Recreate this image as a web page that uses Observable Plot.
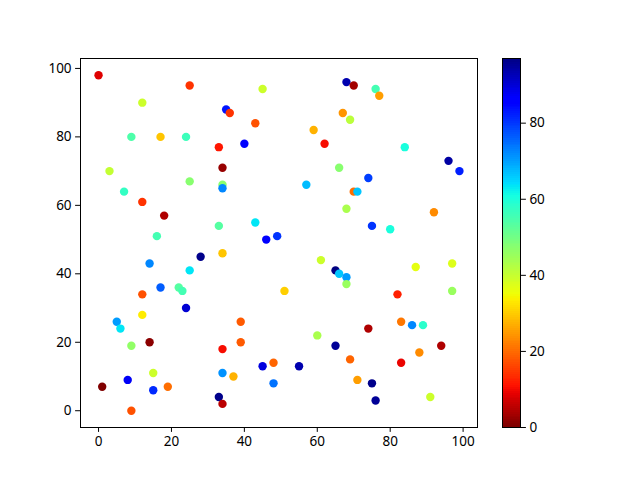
<!DOCTYPE html>
<html>
<head>
<meta charset="utf-8">
<script src="https://cdn.jsdelivr.net/npm/d3@7"></script>
<script src="https://cdn.jsdelivr.net/npm/@observablehq/plot@0.6"></script>
<style>
  html, body { margin: 0; padding: 0; background: #fff; }
  #wrap { position: relative; width: 640px; height: 480px; }
  #wrap svg { position: absolute; left: 0; top: 0; background: transparent; }
</style>
</head>
<body>
<div id="wrap"></div>
<script>
const xs = [0,25,45,12,35,36,43,9,17,24,33,40,3,34,25,34,34,7,12,18,33,43,16,46,49,
            68,70,76,77,67,69,59,62,84,96,99,66,74,57,70,71,68,92,75,80,
            28,34,14,25,17,22,23,12,24,12,5,6,9,14,34,39,39,51,15,8,1,15,19,9,34,37,33,34,45,48,48,
            61,65,66,68,68,87,97,82,97,83,86,89,74,60,65,94,55,69,83,88,71,75,76,91];
const ys = [98,95,94,90,88,87,84,80,80,80,77,78,70,71,67,66,65,64,61,57,54,55,51,50,51,
            96,95,94,92,87,85,82,78,77,73,70,71,68,66,64,64,59,58,54,53,
            45,46,43,41,36,36,35,34,30,28,26,24,19,20,18,26,20,35,11,9,7,6,7,0,11,10,4,2,13,14,8,
            44,41,40,39,37,42,43,34,35,26,25,25,24,22,19,19,13,15,14,17,9,8,3,4];
const cs = [8,14,39,39,83,14,17,54,29,56,11,86,40,2,47,47,72,57,14,4,53,63,55,86,80,
            93,3,55,25,24,41,27,10,60,94,82,47,79,67,20,66,43,23,80,60,
            96,29,72,63,76,53,55,17,90,33,70,63,46,1,10,18,18,30,39,87,0,81,20,17,71,27,96,5,89,19,74,
            39,97,66,70,45,36,37,12,45,21,72,58,4,43,95,4,93,19,9,23,25,96,95,39];

const data = xs.map((x, i) => ({x, y: ys[i], c: cs[i]}));

// matplotlib "jet" colormap segment data
function seg(pts, t) {
  for (let i = 1; i < pts.length; i++) {
    if (t <= pts[i][0]) {
      const [t0, v0] = pts[i - 1], [t1, v1] = pts[i];
      return v0 + (v1 - v0) * (t - t0) / (t1 - t0);
    }
  }
  return pts[pts.length - 1][1];
}
const R = [[0,0],[0.35,0],[0.66,1],[0.89,1],[1,0.5]];
const G = [[0,0],[0.125,0],[0.375,1],[0.64,1],[0.91,0],[1,0]];
const B = [[0,0.5],[0.11,1],[0.34,1],[0.65,0],[1,0]];
function jet(t) {
  t = Math.max(0, Math.min(1, t));
  return d3.rgb(255 * seg(R, t), 255 * seg(G, t), 255 * seg(B, t)).formatHex();
}
const jetR = t => jet(1 - t);

const cmin = d3.min(cs), cmax = d3.max(cs);
const font = "'Noto Sans', 'DejaVu Sans', sans-serif";
const ticks = [0, 20, 40, 60, 80, 100];

const main = Plot.plot({
  width: 640, height: 480,
  marginLeft: 80, marginRight: 163, marginTop: 58, marginBottom: 53,
  style: {fontFamily: font, fontSize: "13.5px", color: "#000", background: "transparent"},
  x: {domain: [-4.95, 103.95]},
  y: {domain: [-4.9, 102.9]},
  color: {type: "linear", domain: [cmin, cmax], interpolate: jetR},
  marks: [
    Plot.dot(data, {x: "x", y: "y", fill: "c", r: 4.2, stroke: null}),
    Plot.frame({stroke: "#000", strokeWidth: 1}),
    Plot.axisX({ticks, tickSize: 4.9, tickPadding: 4, label: null, fontSize: "13.5px"}),
    Plot.axisY({ticks, tickSize: 4.9, tickPadding: 4, label: null, fontSize: "13.5px"})
  ]
});

const step = 0.5;
const bands = d3.range(cmin, cmax, step).map(v => ({v, v2: Math.min(v + 2 * step, cmax)}));
const cbar = Plot.plot({
  width: 640, height: 480,
  marginLeft: 502, marginRight: 120, marginTop: 58, marginBottom: 53,
  style: {fontFamily: font, fontSize: "13.5px", color: "#000", background: "transparent"},
  x: {domain: [0, 1], axis: null},
  y: {domain: [cmin, cmax]},
  color: {type: "linear", domain: [cmin, cmax], interpolate: jetR},
  marks: [
    Plot.rect(bands, {x1: 0, x2: 1, y1: "v", y2: "v2", fill: "v", shapeRendering: "crispEdges"}),
    Plot.frame({stroke: "#000", strokeWidth: 1}),
    Plot.axisY({anchor: "right", ticks: [0, 20, 40, 60, 80], tickSize: 4.9, tickPadding: 4, label: null, fontSize: "13.5px"})
  ]
});

document.getElementById("wrap").append(main, cbar);
</script>
</body>
</html>
